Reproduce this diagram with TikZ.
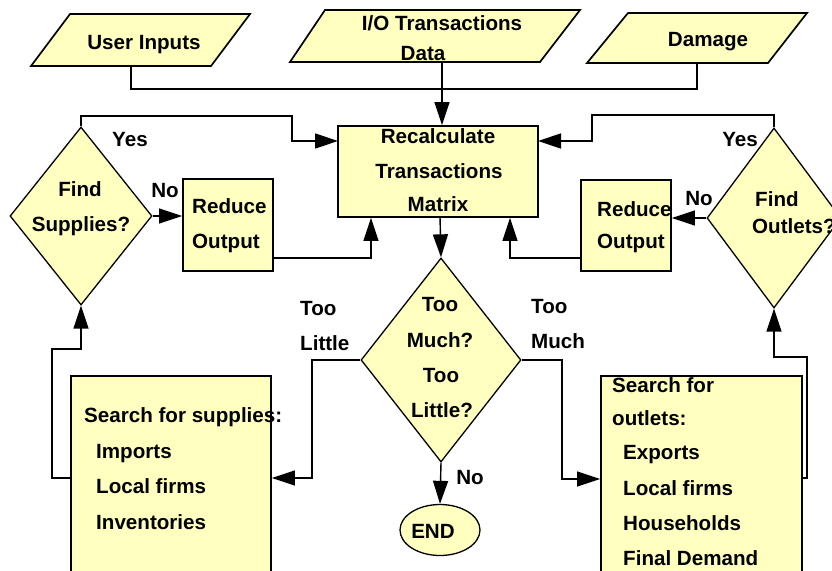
\documentclass[tikz,border=0pt]{standalone}
\usepackage{fontspec}
\setmainfont{Liberation Sans}
\usetikzlibrary{shapes.geometric,arrows.meta}
\definecolor{boxfill}{HTML}{FFFFC0}
\begin{document}
\begin{tikzpicture}[x=1pt,y=-1pt,
  lbl/.style={font=\fontsize{20.6}{24}\bfseries\selectfont, inner sep=0pt, anchor=base},
  lblw/.style={lbl, anchor=base west},
  shapebox/.style={draw, fill=boxfill, line width=1.7pt, inner sep=0pt},
  diam/.style={shapebox, diamond, line width=1.3pt},
  link/.style={line width=1.4pt},
  arr/.style={link, -{Triangle[length=23pt,width=15pt]}}]

\useasboundingbox (0,0) rectangle (832,570);
\clip (0,0) rectangle (832,570);

% ---------- input parallelograms ----------
\draw[shapebox] (70,14) -- (250,14) -- (211,66) -- (31,66) -- cycle;
\node[lbl] (ui) at (144,49) {User Inputs};
\coordinate (uiout) at (131,66);

\draw[shapebox] (325,10) -- (580,10) -- (540,62) -- (290,62) -- cycle;
\node[lbl] (io1) at (442,30) {I/O Transactions};
\node[lbl] (io2) at (423,60) {Data};
\coordinate (ioout) at (442,62);

\draw[shapebox] (628,13) -- (807,13) -- (768,63) -- (587,63) -- cycle;
\node[lbl] (dm) at (708,46) {Damage};
\coordinate (dmout) at (697,63);

% ---------- central recalculation box ----------
\node[shapebox, minimum width=200, minimum height=91] (recalc) at (438,171.5) {};
\node[lbl] (rc1) at (438,143) {Recalculate};
\node[lbl] (rc2) at (439,178) {Transactions};
\node[lbl] (rc3) at (438,211) {Matrix};

% ---------- supplies side ----------
\node[diam, minimum width=142, minimum height=178] (fs) at (81,216) {};
\node[lbl] (fs1) at (80,196) {Find};
\node[lbl] (fs2) at (81,231) {Supplies?};
\node[lbl] (yesl) at (130,146) {Yes};
\node[lbl] (nol) at (165,197) {No};

\node[shapebox, minimum width=90, minimum height=92] (rol) at (228,225) {};
\node[lblw] (rol1) at (192,213) {Reduce};
\node[lblw] (rol2) at (192,248) {Output};

\node[shapebox, minimum width=200, minimum height=214] (sup) at (171,483) {};
\node[lblw] (sup1) at (84,422) {Search for supplies:};
\node[lblw] (sup2) at (96,458) {Imports};
\node[lblw] (sup3) at (96,493) {Local firms};
\node[lblw] (sup4) at (96,529) {Inventories};

% ---------- outlets side ----------
\node[diam, minimum width=134, minimum height=180] (fo) at (774,218) {};
\node[lblw] (fo1) at (755,206) {Find};
\node[lblw] (fo2) at (752,233) {Outlets?};
\node[lbl] (yesr) at (740,146) {Yes};
\node[lbl] (nor) at (699,205) {No};

\node[shapebox, minimum width=90, minimum height=91] (ror) at (626,225.5) {};
\node[lblw] (ror1) at (597,216) {Reduce};
\node[lblw] (ror2) at (597,248) {Output};

\node[shapebox, minimum width=201, minimum height=214] (out) at (701.5,483) {};
\node[lblw] (out1) at (612,392) {Search for};
\node[lblw] (out2) at (612,425) {outlets:};
\node[lblw] (out3) at (623,459) {Exports};
\node[lblw] (out4) at (623,495) {Local firms};
\node[lblw] (out5) at (623,530) {Households};
\node[lblw] (out6) at (623,565) {Final Demand};

% ---------- balance test ----------
\node[diam, minimum width=160, minimum height=204] (tm) at (441,360) {};
\node[lbl] (tm1) at (440,311) {Too};
\node[lbl] (tm2) at (440,347) {Much?};
\node[lbl] (tm3) at (441,382) {Too};
\node[lbl] (tm4) at (442,417) {Little?};
\node[lblw] (tl1) at (300,315) {Too};
\node[lblw] (tl2) at (300,350) {Little};
\node[lblw] (tmu1) at (531,313) {Too};
\node[lblw] (tmu2) at (531,348) {Much};
\node[lbl] (nob) at (470,484) {No};

\node[shapebox, ellipse, line width=1.3pt, minimum width=80, minimum height=51] (end) at (440,530) {};
\node[lbl] (endt) at (433,538) {END};

% ---------- junction points ----------
\coordinate (ja) at (131,89);
\coordinate (jyl1) at (292,116);
\coordinate (jyl2) at (338,141);
\coordinate (jrl1) at (273,258);
\coordinate (jrl2) at (371,258);
\coordinate (jyr1) at (592,115);
\coordinate (jyr2) at (538,141);
\coordinate (jrr1) at (581,258);
\coordinate (jrr2) at (510,258);
\coordinate (jdn) at (440,217);
\coordinate (jtl) at (312,478);
\coordinate (jtm) at (562,479);
\coordinate (js1) at (71,478);
\coordinate (js2) at (52,349);
\coordinate (jo1) at (802,478);
\coordinate (jo2) at (807,357);

% ---------- connectors ----------
\draw[link] (uiout) -- (ja) -| (dmout);
\draw[arr] (ioout) -- (ioout |- recalc.north);

\draw[arr] (fs.north) |- (jyl1) |- (jyl2);
\draw[arr] (fs.east) -- (fs.east -| rol.west);
\draw[arr] (jrl1) -- (jrl2) -- (jrl2 |- recalc.south);

\draw[arr] (fo.north) |- (jyr1) |- (jyr2);
\draw[arr] (fo.west) -- (fo.west -| ror.east);
\draw[arr] (jrr1) -- (jrr2) -- (jrr2 |- recalc.south);

\draw[arr] (jdn) -- (tm.north);
\draw[arr] (tm.west) -| (jtl) -- (jtl -| sup.east);
\draw[arr] (tm.east) -| (jtm) -- (jtm -| out.west);
\draw[arr] (tm.south) -- (end.north);

\draw[arr] (js1) -| (js2) -| (fs.south);
\draw[arr] (jo1) -| (jo2) -| (fo.south);
\end{tikzpicture}
\end{document}
